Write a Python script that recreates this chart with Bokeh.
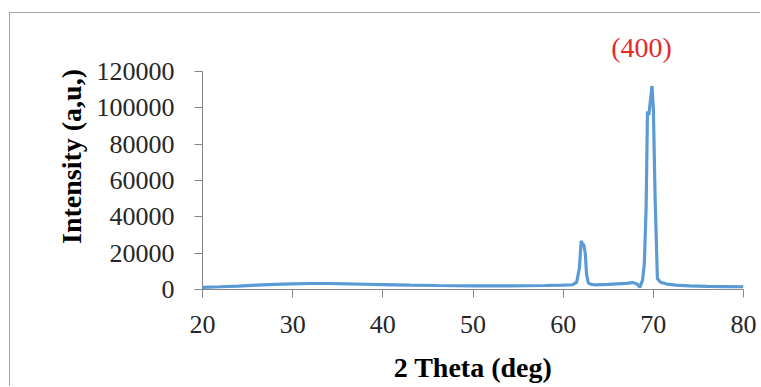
from bokeh.plotting import figure
from bokeh.models import Range1d, FixedTicker, PrintfTickFormatter
from bokeh.embed import file_html
from bokeh.resources import INLINE

# ---- data ----
two_theta = [20, 22, 24, 26, 28, 30, 32, 34, 36, 38, 40, 43, 46, 50, 54, 58,
             60, 61, 61.5, 61.8, 62.0, 62.15, 62.3, 62.45, 62.6, 62.8, 63.1,
             63.5, 65, 67, 67.7, 68.2, 68.5, 68.8, 69.0, 69.2, 69.35, 69.5,
             69.7, 69.85, 70.0, 70.2, 70.45, 70.8, 71.5, 72.5, 74, 76, 78, 80]
intensity = [1200, 1500, 1900, 2400, 2800, 3100, 3300, 3300, 3100, 2900, 2700,
             2400, 2200, 2000, 2000, 2200, 2400, 2600, 4000, 12000, 26800,
             25000, 24500, 20000, 8000, 3500, 2800, 2600, 2800, 3400, 3800,
             3000, 1200, 5000, 14000, 45000, 98000, 96000, 105000, 112000,
             100000, 50000, 6000, 4000, 3000, 2400, 2000, 1700, 1600, 1500]
x_ticks = [20, 30, 40, 50, 60, 70, 80]
y_ticks = [0, 20000, 40000, 60000, 80000, 100000, 120000]
peak_label = ["(400)"]
peak_label_x = [68.7]
peak_label_y = [133000]

SERIF = "Liberation Serif"

# frame extends above 120000 so the peak label is drawn inside it
p = figure(width=751, height=374, output_backend="svg", toolbar_location=None,
           x_range=Range1d(20, 80), y_range=Range1d(0, 146400),
           min_border_left=192, min_border_right=18,
           min_border_top=10, min_border_bottom=98)
p.margin = (12, 0, 0, 9)
p.styles = {"border-left": "1px solid #a6a6a6", "border-top": "1px solid #a6a6a6"}
p.background_fill_color = "white"
p.border_fill_color = "white"
p.outline_line_color = None
p.xgrid.visible = False
p.ygrid.visible = False

p.line(two_theta, intensity, line_color="#5b9bd5", line_width=3.2)

p.text(x=peak_label_x, y=peak_label_y, text=peak_label,
       text_align="center", text_baseline="middle",
       text_font={"value": SERIF}, text_font_size="28px",
       text_color="#e52a2a")

for ax in (p.xaxis[0], p.yaxis[0]):
    ax.axis_line_color = "#868686"
    ax.major_tick_line_color = "#868686"
    ax.major_tick_in = 0
    ax.major_tick_out = 8
    ax.minor_tick_line_color = None
    ax.major_label_text_font = SERIF
    ax.major_label_text_font_size = "26px"
    ax.major_label_text_color = "#262626"
    ax.axis_label_text_font = SERIF
    ax.axis_label_text_font_size = "28px"
    ax.axis_label_text_font_style = "bold"
    ax.axis_label_text_color = "black"

p.xaxis.ticker = FixedTicker(ticks=x_ticks)
p.yaxis.ticker = FixedTicker(ticks=y_ticks)
p.yaxis.bounds = (0, 120000)
p.yaxis.formatter = PrintfTickFormatter(format="%d")
p.xaxis.formatter = PrintfTickFormatter(format="%d")
p.xaxis.axis_label = "2 Theta (deg)"
p.yaxis.axis_label = "Intensity (a,u,)"
p.xaxis.major_label_standoff = 18
p.yaxis.major_label_standoff = 20
p.xaxis.axis_label_standoff = 16
p.yaxis.axis_label_standoff = 7

open("out.html", "w").write(file_html(p, INLINE))
